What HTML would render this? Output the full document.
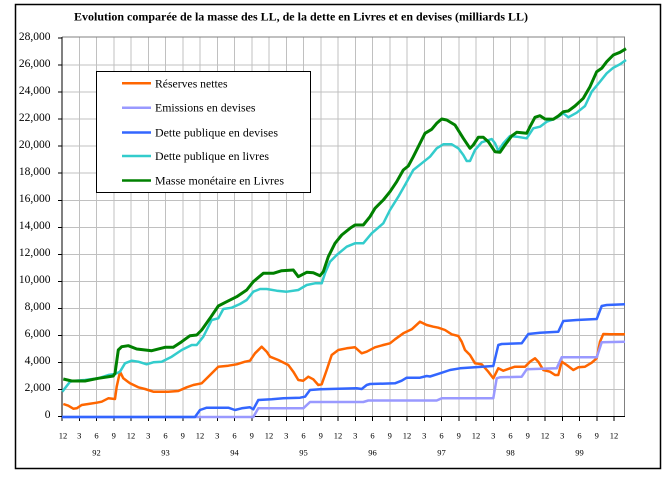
<!DOCTYPE html>
<html>
<head>
<meta charset="utf-8">
<style>
  html,body{margin:0;padding:0;background:#fff;}
  svg{display:block;}
  text{font-family:"Liberation Serif","Times New Roman",serif;fill:#000;}
</style>
</head>
<body>
<svg width="668" height="483" viewBox="0 0 668 483" xmlns="http://www.w3.org/2000/svg">
  <rect x="0" y="0" width="668" height="483" fill="#fff"/>
  <!-- outer frame -->
  <rect x="15.5" y="4.5" width="645" height="464" fill="#fff" stroke="#000" stroke-width="1.5"/>

  <!-- title -->
  <text x="74" y="20.5" font-size="11.5" font-weight="bold" textLength="454" lengthAdjust="spacingAndGlyphs">Evolution comparée de la masse des LL, de la dette en Livres et en devises (milliards LL)</text>

  <!-- horizontal gridlines -->
  <g stroke="#c0c0c0" stroke-width="1" shape-rendering="crispEdges">
    <line x1="62" y1="389.6" x2="624.5" y2="389.6"/>
    <line x1="62" y1="362.5" x2="624.5" y2="362.5"/>
    <line x1="62" y1="335.5" x2="624.5" y2="335.5"/>
    <line x1="62" y1="308.5" x2="624.5" y2="308.5"/>
    <line x1="62" y1="281.4" x2="624.5" y2="281.4"/>
    <line x1="62" y1="254.4" x2="624.5" y2="254.4"/>
    <line x1="62" y1="227.3" x2="624.5" y2="227.3"/>
    <line x1="62" y1="200.3" x2="624.5" y2="200.3"/>
    <line x1="62" y1="173.2" x2="624.5" y2="173.2"/>
    <line x1="62" y1="146.2" x2="624.5" y2="146.2"/>
    <line x1="62" y1="119.2" x2="624.5" y2="119.2"/>
    <line x1="62" y1="92.1" x2="624.5" y2="92.1"/>
    <line x1="62" y1="65.1" x2="624.5" y2="65.1"/>
  </g>
  <!-- vertical gridlines -->
  <g stroke="#c0c0c0" stroke-width="1" shape-rendering="crispEdges">
    <line x1="79.25" y1="37" x2="79.25" y2="416"/><line x1="96.5" y1="37" x2="96.5" y2="416"/><line x1="113.75" y1="37" x2="113.75" y2="416"/><line x1="131" y1="37" x2="131" y2="416"/>
    <line x1="148.25" y1="37" x2="148.25" y2="416"/><line x1="165.5" y1="37" x2="165.5" y2="416"/><line x1="182.75" y1="37" x2="182.75" y2="416"/><line x1="200" y1="37" x2="200" y2="416"/>
    <line x1="217.25" y1="37" x2="217.25" y2="416"/><line x1="234.5" y1="37" x2="234.5" y2="416"/><line x1="251.75" y1="37" x2="251.75" y2="416"/><line x1="269" y1="37" x2="269" y2="416"/>
    <line x1="286.25" y1="37" x2="286.25" y2="416"/><line x1="303.5" y1="37" x2="303.5" y2="416"/><line x1="320.75" y1="37" x2="320.75" y2="416"/><line x1="338" y1="37" x2="338" y2="416"/>
    <line x1="355.25" y1="37" x2="355.25" y2="416"/><line x1="372.5" y1="37" x2="372.5" y2="416"/><line x1="389.75" y1="37" x2="389.75" y2="416"/><line x1="407" y1="37" x2="407" y2="416"/>
    <line x1="424.25" y1="37" x2="424.25" y2="416"/><line x1="441.5" y1="37" x2="441.5" y2="416"/><line x1="458.75" y1="37" x2="458.75" y2="416"/><line x1="476" y1="37" x2="476" y2="416"/>
    <line x1="493.25" y1="37" x2="493.25" y2="416"/><line x1="510.5" y1="37" x2="510.5" y2="416"/><line x1="527.75" y1="37" x2="527.75" y2="416"/><line x1="545" y1="37" x2="545" y2="416"/>
    <line x1="562.25" y1="37" x2="562.25" y2="416"/><line x1="579.5" y1="37" x2="579.5" y2="416"/><line x1="596.75" y1="37" x2="596.75" y2="416"/><line x1="614" y1="37" x2="614" y2="416"/>
  </g>

  <!-- plot border top/right -->
  <polyline points="62,37 624.5,37 624.5,416.7" fill="none" stroke="#808080" stroke-width="1" shape-rendering="crispEdges"/>

  <!-- axes -->
  <line x1="62" y1="37" x2="62" y2="417" stroke="#000" stroke-width="1" shape-rendering="crispEdges"/>
  <line x1="62" y1="416.7" x2="625" y2="416.7" stroke="#000" stroke-width="1" shape-rendering="crispEdges"/>
  <g stroke="#000" stroke-width="1" shape-rendering="crispEdges">
    <line x1="58" y1="389.6" x2="62" y2="389.6"/><line x1="58" y1="362.5" x2="62" y2="362.5"/><line x1="58" y1="335.5" x2="62" y2="335.5"/><line x1="58" y1="308.5" x2="62" y2="308.5"/>
    <line x1="58" y1="281.4" x2="62" y2="281.4"/><line x1="58" y1="254.4" x2="62" y2="254.4"/><line x1="58" y1="227.3" x2="62" y2="227.3"/><line x1="58" y1="200.3" x2="62" y2="200.3"/>
    <line x1="58" y1="173.2" x2="62" y2="173.2"/><line x1="58" y1="146.2" x2="62" y2="146.2"/><line x1="58" y1="119.2" x2="62" y2="119.2"/><line x1="58" y1="92.1" x2="62" y2="92.1"/>
    <line x1="58" y1="65.1" x2="62" y2="65.1"/><line x1="58" y1="38" x2="62" y2="38"/><line x1="58" y1="416.7" x2="62" y2="416.7"/>
    <line x1="62" y1="416" x2="62" y2="421"/><line x1="79.25" y1="416" x2="79.25" y2="421"/><line x1="96.5" y1="416" x2="96.5" y2="421"/><line x1="113.75" y1="416" x2="113.75" y2="421"/><line x1="131" y1="416" x2="131" y2="421"/>
    <line x1="148.25" y1="416" x2="148.25" y2="421"/><line x1="165.5" y1="416" x2="165.5" y2="421"/><line x1="182.75" y1="416" x2="182.75" y2="421"/><line x1="200" y1="416" x2="200" y2="421"/>
    <line x1="217.25" y1="416" x2="217.25" y2="421"/><line x1="234.5" y1="416" x2="234.5" y2="421"/><line x1="251.75" y1="416" x2="251.75" y2="421"/><line x1="269" y1="416" x2="269" y2="421"/>
    <line x1="286.25" y1="416" x2="286.25" y2="421"/><line x1="303.5" y1="416" x2="303.5" y2="421"/><line x1="320.75" y1="416" x2="320.75" y2="421"/><line x1="338" y1="416" x2="338" y2="421"/>
    <line x1="355.25" y1="416" x2="355.25" y2="421"/><line x1="372.5" y1="416" x2="372.5" y2="421"/><line x1="389.75" y1="416" x2="389.75" y2="421"/><line x1="407" y1="416" x2="407" y2="421"/>
    <line x1="424.25" y1="416" x2="424.25" y2="421"/><line x1="441.5" y1="416" x2="441.5" y2="421"/><line x1="458.75" y1="416" x2="458.75" y2="421"/><line x1="476" y1="416" x2="476" y2="421"/>
    <line x1="493.25" y1="416" x2="493.25" y2="421"/><line x1="510.5" y1="416" x2="510.5" y2="421"/><line x1="527.75" y1="416" x2="527.75" y2="421"/><line x1="545" y1="416" x2="545" y2="421"/>
    <line x1="562.25" y1="416" x2="562.25" y2="421"/><line x1="579.5" y1="416" x2="579.5" y2="421"/><line x1="596.75" y1="416" x2="596.75" y2="421"/><line x1="614" y1="416" x2="614" y2="421"/>
  </g>

  <!-- y labels -->
  <g font-size="11.5" text-anchor="end">
    <text x="50.5" y="418">0</text>
    <text x="50.5" y="391">2,000</text>
    <text x="50.5" y="364">4,000</text>
    <text x="50.5" y="337">6,000</text>
    <text x="50.5" y="310">8,000</text>
    <text x="50.5" y="283">10,000</text>
    <text x="50.5" y="256">12,000</text>
    <text x="50.5" y="229">14,000</text>
    <text x="50.5" y="202">16,000</text>
    <text x="50.5" y="175">18,000</text>
    <text x="50.5" y="148">20,000</text>
    <text x="50.5" y="121">22,000</text>
    <text x="50.5" y="94">24,000</text>
    <text x="50.5" y="67">26,000</text>
    <text x="50.5" y="40">28,000</text>
  </g>

  <!-- x labels -->
  <g font-size="8.5" text-anchor="middle">
    <text x="63" y="438.5">12</text><text x="79.25" y="438.5">3</text><text x="96.5" y="438.5">6</text><text x="113.75" y="438.5">9</text>
    <text x="131" y="438.5">12</text><text x="148.25" y="438.5">3</text><text x="165.5" y="438.5">6</text><text x="182.75" y="438.5">9</text>
    <text x="200" y="438.5">12</text><text x="217.25" y="438.5">3</text><text x="234.5" y="438.5">6</text><text x="251.75" y="438.5">9</text>
    <text x="269" y="438.5">12</text><text x="286.25" y="438.5">3</text><text x="303.5" y="438.5">6</text><text x="320.75" y="438.5">9</text>
    <text x="338" y="438.5">12</text><text x="355.25" y="438.5">3</text><text x="372.5" y="438.5">6</text><text x="389.75" y="438.5">9</text>
    <text x="407" y="438.5">12</text><text x="424.25" y="438.5">3</text><text x="441.5" y="438.5">6</text><text x="458.75" y="438.5">9</text>
    <text x="476" y="438.5">12</text><text x="493.25" y="438.5">3</text><text x="510.5" y="438.5">6</text><text x="527.75" y="438.5">9</text>
    <text x="545" y="438.5">12</text><text x="562.25" y="438.5">3</text><text x="579.5" y="438.5">6</text><text x="596.75" y="438.5">9</text>
    <text x="614" y="438.5">12</text>
    <text x="96.5" y="455.5">92</text><text x="165.5" y="455.5">93</text><text x="234.5" y="455.5">94</text><text x="303.5" y="455.5">95</text>
    <text x="372.5" y="455.5">96</text><text x="441.5" y="455.5">97</text><text x="510.5" y="455.5">98</text><text x="579.5" y="455.5">99</text>
  </g>

  <!-- series -->
  <g fill="none" stroke-linejoin="round" stroke-linecap="butt">
    <polyline stroke="#ff6600" stroke-width="2.5" points="63.3,404 68.3,405.7 73.3,408.7 76.7,408.3 81.7,405 88.3,404 96.7,402.7 101.7,401.7 108.3,398.3 115,399 116.7,386.7 120,371.7 123.3,378.3 130,383.3 138.3,387.3 145,389 153.3,391.7 168.3,391.7 178.3,391 186.7,387.3 193.3,385 201.7,383.3 208.3,376.7 218.3,366.7 228.3,365.7 236.7,364.3 245,361.7 250,360.7 255,353.3 261.7,346.7 266.7,351.7 270,356.7 278.3,360 288.3,365 293.3,371.7 298.3,380 303.3,380.7 308.3,376.7 313.3,379.3 318.3,385 321.7,384.3 326.7,370 331.7,355 338.3,350 346.7,348.3 355,347.3 361.7,353.3 366.7,351.7 375,347.3 383.3,345 390,343.3 395,339.3 403.3,333.3 411.7,329.3 420,321.7 426.7,325 433.3,326.7 438.3,327.7 445,330 451.7,334.3 458.3,336 461.7,341.7 465,350 470,355 475,363.3 481.7,364.3 488.3,371.7 493.3,378.3 498.3,368.3 503.3,370.7 510,368.3 515,366.7 525,366.7 530,361.7 535,358.3 538.3,361.7 543.3,370 550,371.7 555,375 558.3,375 561.7,361.7 566.7,365 573.3,370 578.3,367.3 585,366.7 591.7,362.7 596.7,358.3 600,341.7 603.3,334 610,334.3 625,334.3"/>
    <polyline stroke="#9999ff" stroke-width="2.5" points="62,417 253.3,417 258.3,408.3 303.3,408.3 310,402 363.3,402 368.3,400.5 436.7,400.5 441.7,398.3 493.3,398.3 496.7,378.3 500,377.3 521.7,376.7 526.7,369.3 556.7,368.3 561.7,357.3 596.7,357.3 601.7,342.3 625,341.7"/>
    <polyline stroke="#3366ff" stroke-width="2.5" points="62,417 195,417 200,410 206.7,407.7 228.3,407.7 235,410 241.7,408.3 250,407.3 253.3,409.3 258.3,400 271.7,399.3 283.3,398.3 300,397.7 305,396.7 310,390 320,389.3 356.7,388.3 361.7,389 366.7,385 370,384 395,383.3 401.7,380.7 406.7,377.7 420,377.7 426.7,376 430,376.5 440,373.3 450,370 460,368.3 493.3,366 498.3,345 501.7,344 521.7,343.3 528.3,334 540,332.7 558.3,331.7 563.3,321 576.7,320 596.7,319 601.7,306 606.7,305 625,304.3"/>
    <polyline stroke="#33cccc" stroke-width="2.5" points="62.3,391.7 70,381.7 75,380.7 85,380 98.3,378.3 108.3,375 115,374 120,371.7 125,363.3 131.7,360.7 138.3,361.7 146.7,364.3 153.3,362.3 161.7,361.7 171.7,356.7 181.7,350 191.7,345 196.7,345 203.3,336.7 211.7,320 218.3,318.3 223.3,309 231.7,307.7 240,304 246.7,300 253.3,291.7 260,289 266.7,289 276.7,290.7 286.7,291.7 298.3,290 306.7,285 315,283.3 321.7,283.3 325,273.3 330,261.7 336.7,255 346.7,246.7 355,243.3 363.3,243.3 371.7,233.3 383.3,223.3 390,210 398.3,196.7 405,185 413.3,170 421.7,163.3 430,156.7 436.7,148.3 443.3,144.3 451.7,144.3 458.3,148.3 463.3,155 466.7,161 470,161 475,150 481.7,142.3 491.7,139 495,143.3 498.3,150.7 503.3,143.3 510,136 516.7,136.7 526.7,138.3 533.3,128.3 540,126.7 546.7,121.7 553.3,119.3 558.3,116.7 563.3,113.3 568.3,117.3 576.7,112.7 585,106 591.7,91.7 600,81.7 606.7,73.3 613.3,67.7 620,64.3 626,60"/>
    <polyline stroke="#008000" stroke-width="3" points="63.3,379 71.7,381 85,381 98.3,378.3 113.3,376 115,373.3 118.3,350 121.7,346.7 128.3,345.7 136.7,349 151.7,350.7 165,347.3 173.3,347.3 181.7,341.7 190,335.7 196.7,335 201.7,330 210,318.3 218.3,306 226.7,301.7 236.7,296.7 246.7,290 253.3,281.7 263.3,273.3 273.3,273.3 281.7,270.7 293.3,270 298.3,276.7 306.7,272.3 313.3,272.7 320,275.7 323.3,271.7 328.3,256.7 335,243.3 341.7,235 350,228.3 355,225 363.3,225 370,216.7 375,208.3 383.3,200 390,191.7 396.7,181.7 403.3,170 408.3,166 413.3,156.7 420,143.3 425,133.3 431.7,129.3 436.7,123.3 441.7,119 446.7,120 455,125 463.3,138.3 470,148.3 473.3,145 478.3,137.3 483.3,137.3 488.3,141.7 495,151.7 500,152.3 505,145 511.7,136 516.7,132.3 526.7,133.3 530,126.7 535,117.3 540,115.7 545,119 553.3,119.3 558.3,116 563.3,111.7 568.3,111 575,106 583.3,98.3 590,86.7 596.7,71.7 601.7,68.3 606.7,61.7 613.3,55 620,52.3 626,48.7"/>
  </g>

  <!-- legend -->
  <rect x="96.5" y="71.5" width="214" height="121" fill="#fff" stroke="#000" stroke-width="1"/>
  <g stroke-width="2.5">
    <line x1="122" y1="83.3" x2="151" y2="83.3" stroke="#ff6600"/>
    <line x1="122" y1="107.7" x2="151" y2="107.7" stroke="#9999ff"/>
    <line x1="122" y1="132.5" x2="151" y2="132.5" stroke="#3366ff"/>
    <line x1="122" y1="156" x2="151" y2="156" stroke="#33cccc"/>
    <line x1="122" y1="180.5" x2="151" y2="180.5" stroke="#008000"/>
  </g>
  <g font-size="11.5">
    <text x="155" y="87.3" textLength="72.5" lengthAdjust="spacingAndGlyphs">Réserves nettes</text>
    <text x="155" y="111.7" textLength="100.5" lengthAdjust="spacingAndGlyphs">Emissions en devises</text>
    <text x="155" y="136.5" textLength="123" lengthAdjust="spacingAndGlyphs">Dette publique en devises</text>
    <text x="155" y="160" textLength="114" lengthAdjust="spacingAndGlyphs">Dette publique en livres</text>
    <text x="155" y="184.5" textLength="129" lengthAdjust="spacingAndGlyphs">Masse monétaire en Livres</text>
  </g>
</svg>
</body>
</html>
